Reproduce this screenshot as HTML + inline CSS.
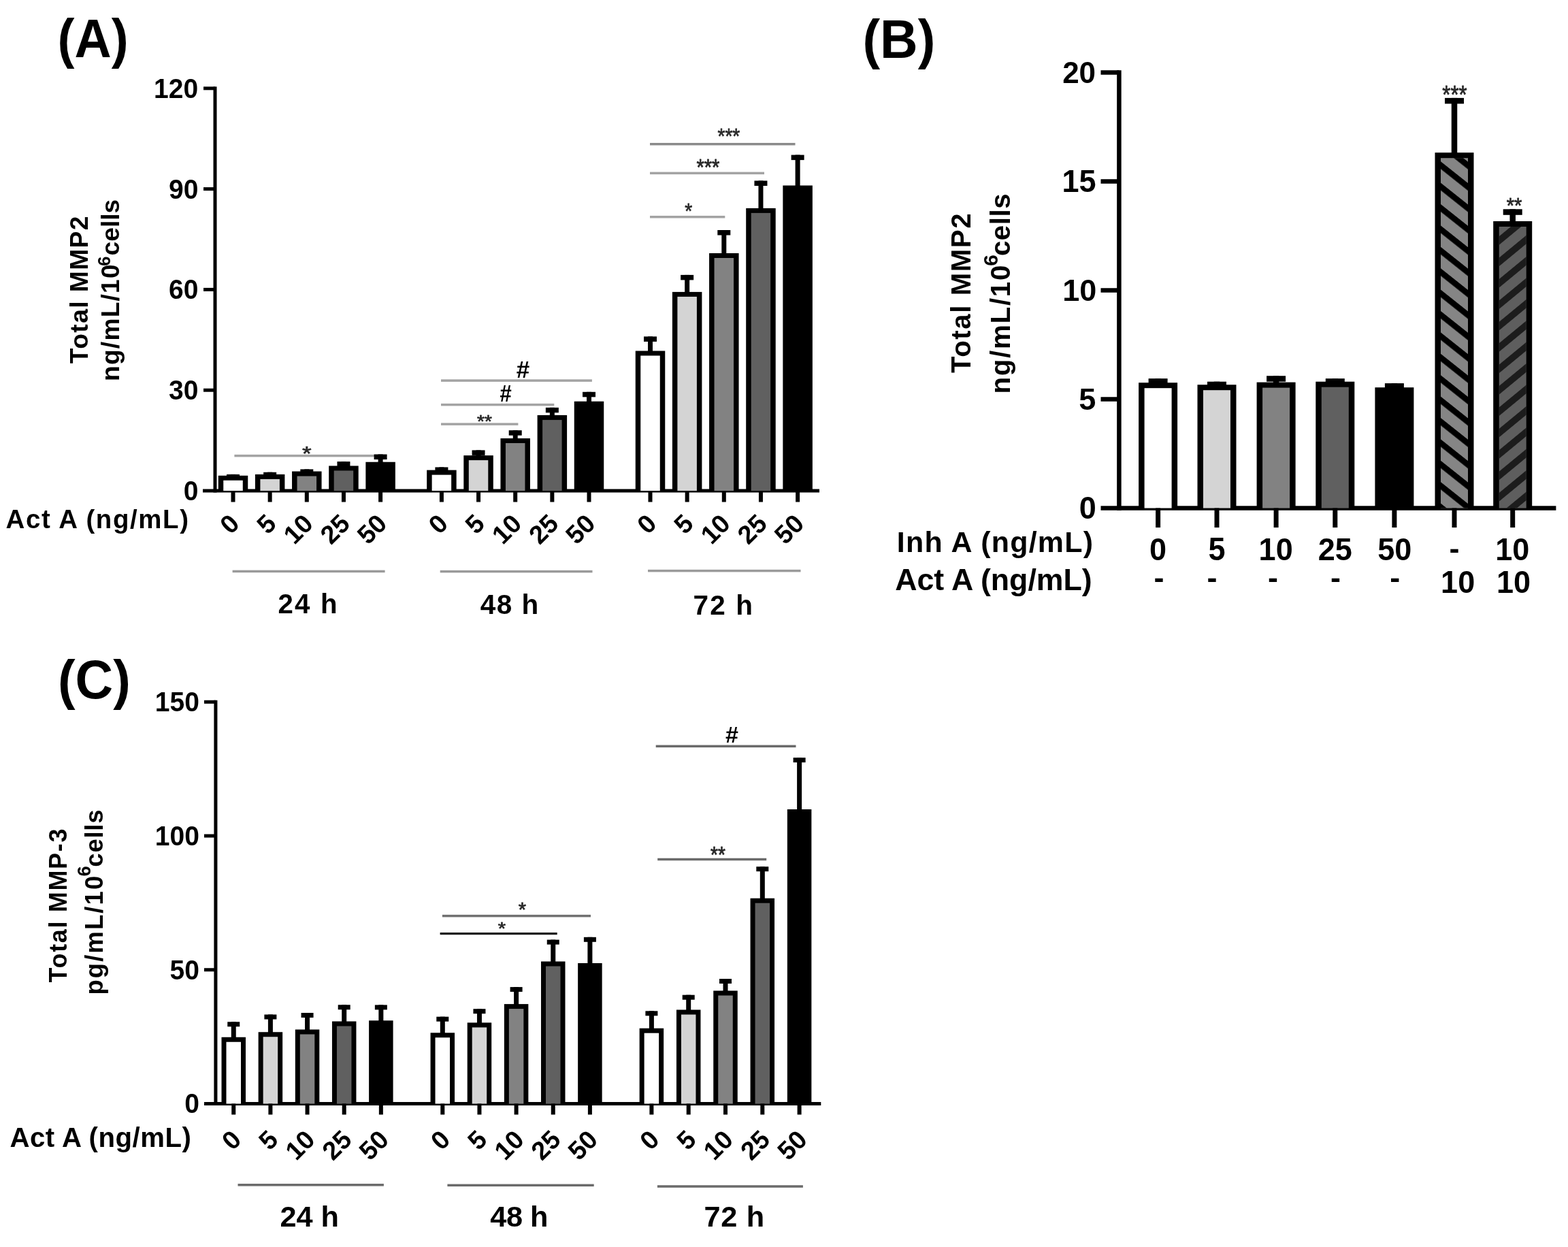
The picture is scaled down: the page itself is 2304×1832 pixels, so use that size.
<!DOCTYPE html>
<html><head><meta charset="utf-8"><title>Figure</title>
<style>html,body{margin:0;padding:0;background:#fff;}svg{display:block;}</style>
</head><body>
<svg width="2304" height="1832" viewBox="0 0 2304 1832" style="font-family:'Liberation Sans',Arial,sans-serif;font-weight:bold">
<defs><pattern id="hatchA" patternUnits="userSpaceOnUse" width="24.57" height="24.57" patternTransform="translate(0 28.87) rotate(38.5)"><rect x="0" y="0" width="24.57" height="8.6" fill="#000"/></pattern><pattern id="hatchB" patternUnits="userSpaceOnUse" width="24.23" height="24.23" patternTransform="translate(0 27.75) rotate(-39.5)"><rect x="0" y="0" width="24.23" height="9.69" fill="#1c1c1c"/></pattern></defs>
<rect x="0" y="0" width="2304" height="1832" fill="#fff"/>
<rect x="344.4" y="667.85" width="213.4" height="3.5" fill="#a3a3a3"/>
<rect x="313.5" y="127.3" width="5" height="596.2" fill="#000"/>
<rect x="299" y="127.3" width="17" height="5" fill="#000"/>
<rect x="299" y="275.1" width="17" height="5" fill="#000"/>
<rect x="299" y="422.9" width="17" height="5" fill="#000"/>
<rect x="299" y="570.7" width="17" height="5" fill="#000"/>
<rect x="298" y="718.5" width="906" height="5" fill="#000"/>
<text transform="translate(226.04 143.82) scale(0.39 0.41)" font-size="100" fill="#000">120</text>
<text transform="translate(247.95 291.62) scale(0.39 0.41)" font-size="100" fill="#000">90</text>
<text transform="translate(247.95 439.42) scale(0.39 0.41)" font-size="100" fill="#000">60</text>
<text transform="translate(247.95 587.17) scale(0.39 0.41)" font-size="100" fill="#000">30</text>
<text transform="translate(269.76 735.02) scale(0.39 0.41)" font-size="100" fill="#000">0</text>
<rect x="339" y="696.9" width="7" height="8.85" fill="#000"/>
<rect x="333" y="696.9" width="19" height="7.5" fill="#000"/>
<rect x="320.75" y="698.75" width="43.5" height="22.25" fill="#000"/>
<rect x="328.25" y="705.75" width="28.5" height="15.25" fill="#ffffff"/>
<rect x="339.5" y="721" width="6" height="16.5" fill="#000"/>
<rect x="393.15" y="693.75" width="7" height="10.15" fill="#000"/>
<rect x="387.15" y="693.75" width="19" height="7.5" fill="#000"/>
<rect x="374.9" y="696.9" width="43.5" height="24.1" fill="#000"/>
<rect x="382.4" y="703.9" width="28.5" height="17.1" fill="#d4d4d4"/>
<rect x="393.65" y="721" width="6" height="16.5" fill="#000"/>
<rect x="447.3" y="689.4" width="7" height="10.1" fill="#000"/>
<rect x="441.3" y="689.4" width="19" height="7.5" fill="#000"/>
<rect x="429.05" y="692.5" width="43.5" height="28.5" fill="#000"/>
<rect x="436.55" y="699.5" width="28.5" height="21.5" fill="#828282"/>
<rect x="447.8" y="721" width="6" height="16.5" fill="#000"/>
<rect x="501.45" y="678.1" width="7" height="13.3" fill="#000"/>
<rect x="495.45" y="678.1" width="19" height="7.5" fill="#000"/>
<rect x="483.2" y="684.4" width="43.5" height="36.6" fill="#000"/>
<rect x="490.7" y="691.4" width="28.5" height="29.6" fill="#606060"/>
<rect x="501.95" y="721" width="6" height="16.5" fill="#000"/>
<rect x="555.6" y="667.5" width="7" height="18.25" fill="#000"/>
<rect x="549.6" y="667.5" width="19" height="7.5" fill="#000"/>
<rect x="537.35" y="678.75" width="43.5" height="42.25" fill="#000"/>
<rect x="556.1" y="721" width="6" height="16.5" fill="#000"/>
<rect x="645.4" y="686.4" width="7" height="11.2" fill="#000"/>
<rect x="639.4" y="686.4" width="19" height="7.5" fill="#000"/>
<rect x="627.15" y="690.6" width="43.5" height="30.4" fill="#000"/>
<rect x="634.65" y="697.6" width="28.5" height="23.4" fill="#ffffff"/>
<rect x="645.9" y="721" width="6" height="16.5" fill="#000"/>
<rect x="699.55" y="661.4" width="7" height="14.7" fill="#000"/>
<rect x="693.55" y="661.4" width="19" height="7.5" fill="#000"/>
<rect x="681.3" y="669.1" width="43.5" height="51.9" fill="#000"/>
<rect x="688.8" y="676.1" width="28.5" height="44.9" fill="#d4d4d4"/>
<rect x="700.05" y="721" width="6" height="16.5" fill="#000"/>
<rect x="753.7" y="632.2" width="7" height="18.8" fill="#000"/>
<rect x="747.7" y="632.2" width="19" height="7.5" fill="#000"/>
<rect x="735.45" y="644" width="43.5" height="77" fill="#000"/>
<rect x="742.95" y="651" width="28.5" height="70" fill="#828282"/>
<rect x="754.2" y="721" width="6" height="16.5" fill="#000"/>
<rect x="807.85" y="598.8" width="7" height="18.1" fill="#000"/>
<rect x="801.85" y="598.8" width="19" height="7.5" fill="#000"/>
<rect x="789.6" y="609.9" width="43.5" height="111.1" fill="#000"/>
<rect x="797.1" y="616.9" width="28.5" height="104.1" fill="#606060"/>
<rect x="808.35" y="721" width="6" height="16.5" fill="#000"/>
<rect x="862" y="575.8" width="7" height="20.9" fill="#000"/>
<rect x="856" y="575.8" width="19" height="7.5" fill="#000"/>
<rect x="843.75" y="589.7" width="43.5" height="131.3" fill="#000"/>
<rect x="862.5" y="721" width="6" height="16.5" fill="#000"/>
<rect x="952" y="494.4" width="7" height="28.1" fill="#000"/>
<rect x="946" y="494.4" width="19" height="7.5" fill="#000"/>
<rect x="933.75" y="515.5" width="43.5" height="205.5" fill="#000"/>
<rect x="941.25" y="522.5" width="28.5" height="198.5" fill="#ffffff"/>
<rect x="952.5" y="721" width="6" height="16.5" fill="#000"/>
<rect x="1006.15" y="403.9" width="7" height="32" fill="#000"/>
<rect x="1000.15" y="403.9" width="19" height="7.5" fill="#000"/>
<rect x="987.9" y="428.9" width="43.5" height="292.1" fill="#000"/>
<rect x="995.4" y="435.9" width="28.5" height="285.1" fill="#d4d4d4"/>
<rect x="1006.65" y="721" width="6" height="16.5" fill="#000"/>
<rect x="1060.3" y="338" width="7" height="41" fill="#000"/>
<rect x="1054.3" y="338" width="19" height="7.5" fill="#000"/>
<rect x="1042.05" y="372" width="43.5" height="349" fill="#000"/>
<rect x="1049.55" y="379" width="28.5" height="342" fill="#828282"/>
<rect x="1060.8" y="721" width="6" height="16.5" fill="#000"/>
<rect x="1114.45" y="265.5" width="7" height="47.4" fill="#000"/>
<rect x="1108.45" y="265.5" width="19" height="7.5" fill="#000"/>
<rect x="1096.2" y="305.9" width="43.5" height="415.1" fill="#000"/>
<rect x="1103.7" y="312.9" width="28.5" height="408.1" fill="#606060"/>
<rect x="1114.95" y="721" width="6" height="16.5" fill="#000"/>
<rect x="1168.6" y="227.6" width="7" height="51.9" fill="#000"/>
<rect x="1162.6" y="227.6" width="19" height="7.5" fill="#000"/>
<rect x="1150.35" y="272.5" width="43.5" height="448.5" fill="#000"/>
<rect x="1169.1" y="721" width="6" height="16.5" fill="#000"/>
<text transform="translate(443.88 675.64) scale(0.35 0.29)" font-size="100" fill="#2a2a2a" font-weight="normal" stroke="#2a2a2a" stroke-width="2.51" stroke-linejoin="round">*</text>
<rect x="648" y="621.35" width="113.4" height="3.5" fill="#a3a3a3"/>
<text transform="translate(701.11 628.48) scale(0.28 0.26)" font-size="100" fill="#2a2a2a" font-weight="normal" stroke="#2a2a2a" stroke-width="2.97" stroke-linejoin="round">**</text>
<rect x="648" y="592.85" width="166.3" height="3.5" fill="#a3a3a3"/>
<text transform="translate(734.46 590.4) scale(0.31 0.35)" font-size="100" fill="#000">#</text>
<rect x="648" y="557.35" width="221.9" height="3.5" fill="#a3a3a3"/>
<text transform="translate(758.69 555) scale(0.35 0.35)" font-size="100" fill="#000">#</text>
<rect x="955" y="316.95" width="110.3" height="3.5" fill="#a3a3a3"/>
<text transform="translate(1006.21 320.61) scale(0.28 0.31)" font-size="100" fill="#2a2a2a" font-weight="normal" stroke="#2a2a2a" stroke-width="2.68" stroke-linejoin="round">*</text>
<rect x="955" y="252.65" width="168" height="3.5" fill="#a3a3a3"/>
<text transform="translate(1023.49 256.57) scale(0.29 0.34)" font-size="100" fill="#2a2a2a" font-weight="normal" stroke="#2a2a2a" stroke-width="2.53" stroke-linejoin="round">***</text>
<rect x="955" y="209.95" width="213.5" height="3.5" fill="#8a8a8a"/>
<text transform="translate(1054.51 211.21) scale(0.28 0.31)" font-size="100" fill="#2a2a2a" font-weight="normal" stroke="#2a2a2a" stroke-width="2.72" stroke-linejoin="round">***</text>
<rect x="341.6" y="837.65" width="224" height="3.5" fill="#9a9a9a"/>
<rect x="646.7" y="837.85" width="223.8" height="3.5" fill="#9a9a9a"/>
<rect x="952" y="836.85" width="224.5" height="3.5" fill="#9a9a9a"/>
<text x="408.49" y="900.7" font-size="40.22" textLength="87.06" lengthAdjust="spacing" fill="#000">24 h</text>
<text x="705.79" y="901.5" font-size="40.5" textLength="85.48" lengthAdjust="spacing" fill="#000">48 h</text>
<text x="1018.58" y="902.5" font-size="40.5" textLength="87.39" lengthAdjust="spacing" fill="#000">72 h</text>
<text transform="translate(354 771.5) rotate(-45)" font-size="38" text-anchor="end">0</text>
<text transform="translate(408.15 771.5) rotate(-45)" font-size="38" text-anchor="end">5</text>
<text transform="translate(462.3 771.5) rotate(-45)" font-size="38" text-anchor="end">10</text>
<text transform="translate(516.45 771.5) rotate(-45)" font-size="38" text-anchor="end">25</text>
<text transform="translate(570.6 771.5) rotate(-45)" font-size="38" text-anchor="end">50</text>
<text transform="translate(660.4 771.5) rotate(-45)" font-size="38" text-anchor="end">0</text>
<text transform="translate(714.55 771.5) rotate(-45)" font-size="38" text-anchor="end">5</text>
<text transform="translate(768.7 771.5) rotate(-45)" font-size="38" text-anchor="end">10</text>
<text transform="translate(822.85 771.5) rotate(-45)" font-size="38" text-anchor="end">25</text>
<text transform="translate(877 771.5) rotate(-45)" font-size="38" text-anchor="end">50</text>
<text transform="translate(967 771.5) rotate(-45)" font-size="38" text-anchor="end">0</text>
<text transform="translate(1021.15 771.5) rotate(-45)" font-size="38" text-anchor="end">5</text>
<text transform="translate(1075.3 771.5) rotate(-45)" font-size="38" text-anchor="end">10</text>
<text transform="translate(1129.45 771.5) rotate(-45)" font-size="38" text-anchor="end">25</text>
<text transform="translate(1183.6 771.5) rotate(-45)" font-size="38" text-anchor="end">50</text>
<text transform="translate(84.54 84) scale(0.75 0.8)" font-size="100" fill="#000">(A)</text>
<text x="8.54" y="776.25" font-size="38.41" textLength="268.41" lengthAdjust="spacing" fill="#000">Act A (ng/mL)</text>
<text transform="translate(128.8 534.17) rotate(-90)" font-size="37.29" textLength="216.73" lengthAdjust="spacing" fill="#000">Total MMP2</text>
<text transform="translate(175.4 559.91) rotate(-90)" font-size="37.15" textLength="171.49" lengthAdjust="spacing" fill="#000">ng/mL/10</text>
<text transform="translate(161.8 390.97) rotate(-90)" font-size="25.98" textLength="16.31" lengthAdjust="spacing" fill="#000">6</text>
<text transform="translate(175.4 375.39) rotate(-90)" font-size="37.15" textLength="82.54" lengthAdjust="spacing" fill="#000">cells</text>
<rect x="1641.15" y="103.25" width="6.5" height="646.5" fill="#000"/>
<rect x="1617.5" y="103.25" width="26.9" height="6.5" fill="#000"/>
<rect x="1617.5" y="263.25" width="26.9" height="6.5" fill="#000"/>
<rect x="1617.5" y="423.25" width="26.9" height="6.5" fill="#000"/>
<rect x="1617.5" y="583.25" width="26.9" height="6.5" fill="#000"/>
<rect x="1617.5" y="743.25" width="668.9" height="6.5" fill="#000"/>
<text transform="translate(1561.14 122.14) scale(0.44 0.45)" font-size="100" fill="#000">20</text>
<text transform="translate(1560.58 281.91) scale(0.45 0.46)" font-size="100" fill="#000">15</text>
<text transform="translate(1561.13 442.14) scale(0.45 0.45)" font-size="100" fill="#000">10</text>
<text transform="translate(1585.28 601.91) scale(0.45 0.45)" font-size="100" fill="#000">5</text>
<text transform="translate(1585.83 762.14) scale(0.45 0.46)" font-size="100" fill="#000">0</text>
<rect x="1697.35" y="556.1" width="8.5" height="14.1" fill="#000"/>
<rect x="1687.6" y="556.1" width="28" height="8.5" fill="#000"/>
<rect x="1673.1" y="562.2" width="57" height="184.3" fill="#000"/>
<rect x="1681.6" y="570.2" width="40" height="176.3" fill="#ffffff"/>
<rect x="1698.1" y="746.5" width="7" height="28.5" fill="#000"/>
<rect x="1783.75" y="560.7" width="8.5" height="12.5" fill="#000"/>
<rect x="1774" y="560.7" width="28" height="8.5" fill="#000"/>
<rect x="1759.5" y="565.2" width="57" height="181.3" fill="#000"/>
<rect x="1768" y="573.2" width="40" height="173.3" fill="#d4d4d4"/>
<rect x="1784.5" y="746.5" width="7" height="28.5" fill="#000"/>
<rect x="1870.85" y="552.2" width="8.5" height="17.4" fill="#000"/>
<rect x="1861.1" y="552.2" width="28" height="8.5" fill="#000"/>
<rect x="1846.6" y="561.6" width="57" height="184.9" fill="#000"/>
<rect x="1855.1" y="569.6" width="40" height="176.9" fill="#828282"/>
<rect x="1871.6" y="746.5" width="7" height="28.5" fill="#000"/>
<rect x="1957.55" y="556.1" width="8.5" height="12.6" fill="#000"/>
<rect x="1947.8" y="556.1" width="28" height="8.5" fill="#000"/>
<rect x="1933.3" y="560.7" width="57" height="185.8" fill="#000"/>
<rect x="1941.8" y="568.7" width="40" height="177.8" fill="#606060"/>
<rect x="1958.3" y="746.5" width="7" height="28.5" fill="#000"/>
<rect x="2044.65" y="563.1" width="8.5" height="14.1" fill="#000"/>
<rect x="2034.9" y="563.1" width="28" height="8.5" fill="#000"/>
<rect x="2020.4" y="569.2" width="57" height="177.3" fill="#000"/>
<rect x="2045.4" y="746.5" width="7" height="28.5" fill="#000"/>
<rect x="2132.75" y="143.9" width="8.5" height="88.3" fill="#000"/>
<rect x="2123" y="143.9" width="28" height="8.5" fill="#000"/>
<rect x="2108.5" y="224.2" width="57" height="522.3" fill="#000"/>
<rect x="2117" y="232.2" width="40" height="514.3" fill="#858585"/>
<rect x="2117" y="232.2" width="40" height="514.3" fill="url(#hatchA)"/>
<rect x="2133.5" y="746.5" width="7" height="28.5" fill="#000"/>
<rect x="2218.45" y="307.3" width="8.5" height="25.7" fill="#000"/>
<rect x="2208.7" y="307.3" width="28" height="8.5" fill="#000"/>
<rect x="2194.2" y="325" width="57" height="421.5" fill="#000"/>
<rect x="2202.7" y="333" width="40" height="413.5" fill="#5e5e5e"/>
<rect x="2202.7" y="333" width="40" height="413.5" fill="url(#hatchB)"/>
<rect x="2219.2" y="746.5" width="7" height="28.5" fill="#000"/>
<text transform="translate(2119.35 151.83) scale(0.31 0.37)" font-size="100" fill="#2a2a2a" font-weight="normal" stroke="#2a2a2a" stroke-width="2.33" stroke-linejoin="round">***</text>
<text transform="translate(2213.69 312.5) scale(0.29 0.32)" font-size="100" fill="#2a2a2a" font-weight="normal" stroke="#2a2a2a" stroke-width="2.63" stroke-linejoin="round">**</text>
<text transform="translate(1267.42 84.56) scale(0.77 0.8)" font-size="100" fill="#000">(B)</text>
<text transform="translate(1426.25 547.9) rotate(-90)" font-size="40.15" textLength="234.47" lengthAdjust="spacing" fill="#000">Total MMP2</text>
<text transform="translate(1484.1 578.62) rotate(-90)" font-size="40.36" textLength="189.03" lengthAdjust="spacing" fill="#000">ng/mL/10</text>
<text transform="translate(1465.5 390.63) rotate(-90)" font-size="30.03" textLength="15.31" lengthAdjust="spacing" fill="#000">6</text>
<text transform="translate(1484.1 376.11) rotate(-90)" font-size="40.36" textLength="91.9" lengthAdjust="spacing" fill="#000">cells</text>
<text x="1317.85" y="811.25" font-size="42.95" textLength="288.1" lengthAdjust="spacing" fill="#000">Inh A (ng/mL)</text>
<text x="1315.13" y="867" font-size="44.69" textLength="289.63" lengthAdjust="spacing" fill="#000">Act A (ng/mL)</text>
<text transform="translate(1689.11 822.53) scale(0.45 0.47)" font-size="100" fill="#000">0</text>
<text transform="translate(1695.52 864.2) scale(0.45 0.45)" font-size="100" fill="#000">-</text>
<text transform="translate(1775.46 822.52) scale(0.45 0.48)" font-size="100" fill="#000">5</text>
<text transform="translate(1773.52 864.2) scale(0.45 0.45)" font-size="100" fill="#000">-</text>
<text transform="translate(1849.62 822.53) scale(0.45 0.47)" font-size="100" fill="#000">10</text>
<text transform="translate(1863.02 864.2) scale(0.45 0.45)" font-size="100" fill="#000">-</text>
<text transform="translate(1936.66 822.53) scale(0.45 0.47)" font-size="100" fill="#000">25</text>
<text transform="translate(1954.92 864.2) scale(0.45 0.45)" font-size="100" fill="#000">-</text>
<text transform="translate(2024.15 822.53) scale(0.45 0.47)" font-size="100" fill="#000">50</text>
<text transform="translate(2042.32 864.2) scale(0.45 0.45)" font-size="100" fill="#000">-</text>
<text transform="translate(2129.52 821.1) scale(0.45 0.45)" font-size="100" fill="#000">-</text>
<text transform="translate(2117.12 871.04) scale(0.45 0.46)" font-size="100" fill="#000">10</text>
<text transform="translate(2197.22 822.53) scale(0.45 0.47)" font-size="100" fill="#000">10</text>
<text transform="translate(2199.02 871.04) scale(0.45 0.46)" font-size="100" fill="#000">10</text>
<rect x="314.4" y="1028.75" width="5" height="595.25" fill="#000"/>
<rect x="300" y="1028.75" width="16.9" height="5" fill="#000"/>
<rect x="300" y="1225.5" width="16.9" height="5" fill="#000"/>
<rect x="300" y="1422.25" width="16.9" height="5" fill="#000"/>
<rect x="300" y="1619" width="906.3" height="5" fill="#000"/>
<text transform="translate(227.78 1045.17) scale(0.39 0.4)" font-size="100" fill="#000">150</text>
<text transform="translate(227.78 1241.92) scale(0.39 0.4)" font-size="100" fill="#000">100</text>
<text transform="translate(249.52 1438.67) scale(0.39 0.4)" font-size="100" fill="#000">50</text>
<text transform="translate(271.17 1635.42) scale(0.39 0.4)" font-size="100" fill="#000">0</text>
<rect x="339.75" y="1501.25" width="7" height="29.5" fill="#000"/>
<rect x="334.25" y="1501.25" width="18" height="7" fill="#000"/>
<rect x="325.5" y="1523.75" width="35.5" height="97.75" fill="#000"/>
<rect x="332.5" y="1530.75" width="21.5" height="90.75" fill="#ffffff"/>
<rect x="340.25" y="1621.5" width="6" height="16" fill="#000"/>
<rect x="393.9" y="1490.5" width="7" height="32.75" fill="#000"/>
<rect x="388.4" y="1490.5" width="18" height="7" fill="#000"/>
<rect x="379.65" y="1516.25" width="35.5" height="105.25" fill="#000"/>
<rect x="386.65" y="1523.25" width="21.5" height="98.25" fill="#d4d4d4"/>
<rect x="394.4" y="1621.5" width="6" height="16" fill="#000"/>
<rect x="448.05" y="1488" width="7" height="31.5" fill="#000"/>
<rect x="442.55" y="1488" width="18" height="7" fill="#000"/>
<rect x="433.8" y="1512.5" width="35.5" height="109" fill="#000"/>
<rect x="440.8" y="1519.5" width="21.5" height="102" fill="#828282"/>
<rect x="448.55" y="1621.5" width="6" height="16" fill="#000"/>
<rect x="502.2" y="1476.25" width="7" height="31.25" fill="#000"/>
<rect x="496.7" y="1476.25" width="18" height="7" fill="#000"/>
<rect x="487.95" y="1500.5" width="35.5" height="121" fill="#000"/>
<rect x="494.95" y="1507.5" width="21.5" height="114" fill="#606060"/>
<rect x="502.7" y="1621.5" width="6" height="16" fill="#000"/>
<rect x="556.35" y="1476.4" width="7" height="29.9" fill="#000"/>
<rect x="550.85" y="1476.4" width="18" height="7" fill="#000"/>
<rect x="542.1" y="1499.3" width="35.5" height="122.2" fill="#000"/>
<rect x="556.85" y="1621.5" width="6" height="16" fill="#000"/>
<rect x="646.8" y="1493.7" width="7" height="30.6" fill="#000"/>
<rect x="641.3" y="1493.7" width="18" height="7" fill="#000"/>
<rect x="632.55" y="1517.3" width="35.5" height="104.2" fill="#000"/>
<rect x="639.55" y="1524.3" width="21.5" height="97.2" fill="#ffffff"/>
<rect x="647.3" y="1621.5" width="6" height="16" fill="#000"/>
<rect x="700.95" y="1482.2" width="7" height="27.2" fill="#000"/>
<rect x="695.45" y="1482.2" width="18" height="7" fill="#000"/>
<rect x="686.7" y="1502.4" width="35.5" height="119.1" fill="#000"/>
<rect x="693.7" y="1509.4" width="21.5" height="112.1" fill="#d4d4d4"/>
<rect x="701.45" y="1621.5" width="6" height="16" fill="#000"/>
<rect x="755.1" y="1450.1" width="7" height="32" fill="#000"/>
<rect x="749.6" y="1450.1" width="18" height="7" fill="#000"/>
<rect x="740.85" y="1475.1" width="35.5" height="146.4" fill="#000"/>
<rect x="747.85" y="1482.1" width="21.5" height="139.4" fill="#828282"/>
<rect x="755.6" y="1621.5" width="6" height="16" fill="#000"/>
<rect x="809.25" y="1380.6" width="7" height="38.9" fill="#000"/>
<rect x="803.75" y="1380.6" width="18" height="7" fill="#000"/>
<rect x="795" y="1412.5" width="35.5" height="209" fill="#000"/>
<rect x="802" y="1419.5" width="21.5" height="202" fill="#606060"/>
<rect x="809.75" y="1621.5" width="6" height="16" fill="#000"/>
<rect x="863.4" y="1376.8" width="7" height="45.2" fill="#000"/>
<rect x="857.9" y="1376.8" width="18" height="7" fill="#000"/>
<rect x="849.15" y="1415" width="35.5" height="206.5" fill="#000"/>
<rect x="863.9" y="1621.5" width="6" height="16" fill="#000"/>
<rect x="953.9" y="1485.3" width="7" height="32.4" fill="#000"/>
<rect x="948.4" y="1485.3" width="18" height="7" fill="#000"/>
<rect x="939.65" y="1510.7" width="35.5" height="110.8" fill="#000"/>
<rect x="946.65" y="1517.7" width="21.5" height="103.8" fill="#ffffff"/>
<rect x="954.4" y="1621.5" width="6" height="16" fill="#000"/>
<rect x="1008.2" y="1461.7" width="7" height="28.8" fill="#000"/>
<rect x="1002.7" y="1461.7" width="18" height="7" fill="#000"/>
<rect x="993.95" y="1483.5" width="35.5" height="138" fill="#000"/>
<rect x="1000.95" y="1490.5" width="21.5" height="131" fill="#d4d4d4"/>
<rect x="1008.7" y="1621.5" width="6" height="16" fill="#000"/>
<rect x="1062.5" y="1438" width="7" height="24.5" fill="#000"/>
<rect x="1057" y="1438" width="18" height="7" fill="#000"/>
<rect x="1048.25" y="1455.5" width="35.5" height="166" fill="#000"/>
<rect x="1055.25" y="1462.5" width="21.5" height="159" fill="#828282"/>
<rect x="1063" y="1621.5" width="6" height="16" fill="#000"/>
<rect x="1116.8" y="1273.2" width="7" height="53.5" fill="#000"/>
<rect x="1111.3" y="1273.2" width="18" height="7" fill="#000"/>
<rect x="1102.55" y="1319.7" width="35.5" height="301.8" fill="#000"/>
<rect x="1109.55" y="1326.7" width="21.5" height="294.8" fill="#606060"/>
<rect x="1117.3" y="1621.5" width="6" height="16" fill="#000"/>
<rect x="1171.1" y="1113.1" width="7" height="82.9" fill="#000"/>
<rect x="1165.6" y="1113.1" width="18" height="7" fill="#000"/>
<rect x="1156.85" y="1189" width="35.5" height="432.5" fill="#000"/>
<rect x="1171.6" y="1621.5" width="6" height="16" fill="#000"/>
<rect x="646.6" y="1370" width="172.1" height="3.2" fill="#111"/>
<text transform="translate(731.79 1373.18) scale(0.29 0.26)" font-size="100" fill="#2a2a2a" font-weight="normal" stroke="#2a2a2a" stroke-width="2.89" stroke-linejoin="round">*</text>
<rect x="649.9" y="1343.85" width="218.1" height="3.5" fill="#707070"/>
<text transform="translate(761.69 1345.73) scale(0.29 0.29)" font-size="100" fill="#2a2a2a" font-weight="normal" stroke="#2a2a2a" stroke-width="2.72" stroke-linejoin="round">*</text>
<rect x="966.2" y="1260.75" width="160" height="3.5" fill="#6a6a6a"/>
<text transform="translate(1044.1 1266.99) scale(0.28 0.33)" font-size="100" fill="#2a2a2a" font-weight="normal" stroke="#2a2a2a" stroke-width="2.62" stroke-linejoin="round">**</text>
<rect x="963.7" y="1094.55" width="205.8" height="3.5" fill="#6a6a6a"/>
<text transform="translate(1066 1091) scale(0.34 0.34)" font-size="100" fill="#000">#</text>
<rect x="349.5" y="1739.05" width="214.4" height="3.5" fill="#6a6a6a"/>
<rect x="657.4" y="1739.55" width="215.3" height="3.5" fill="#6a6a6a"/>
<rect x="965.9" y="1741.25" width="214" height="3.5" fill="#6a6a6a"/>
<text x="411.58" y="1802.2" font-size="43.3" textLength="86.26" lengthAdjust="spacing" fill="#000">24 h</text>
<text x="720.25" y="1802.2" font-size="43.3" textLength="85.29" lengthAdjust="spacing" fill="#000">48 h</text>
<text x="1034.46" y="1802.2" font-size="43.3" textLength="88.78" lengthAdjust="spacing" fill="#000">72 h</text>
<text transform="translate(356.75 1676.5) rotate(-45)" font-size="38" text-anchor="end">0</text>
<text transform="translate(410.9 1676.5) rotate(-45)" font-size="38" text-anchor="end">5</text>
<text transform="translate(465.05 1676.5) rotate(-45)" font-size="38" text-anchor="end">10</text>
<text transform="translate(519.2 1676.5) rotate(-45)" font-size="38" text-anchor="end">25</text>
<text transform="translate(573.35 1676.5) rotate(-45)" font-size="38" text-anchor="end">50</text>
<text transform="translate(663.8 1676.5) rotate(-45)" font-size="38" text-anchor="end">0</text>
<text transform="translate(717.95 1676.5) rotate(-45)" font-size="38" text-anchor="end">5</text>
<text transform="translate(772.1 1676.5) rotate(-45)" font-size="38" text-anchor="end">10</text>
<text transform="translate(826.25 1676.5) rotate(-45)" font-size="38" text-anchor="end">25</text>
<text transform="translate(880.4 1676.5) rotate(-45)" font-size="38" text-anchor="end">50</text>
<text transform="translate(970.9 1676.5) rotate(-45)" font-size="38" text-anchor="end">0</text>
<text transform="translate(1025.2 1676.5) rotate(-45)" font-size="38" text-anchor="end">5</text>
<text transform="translate(1079.5 1676.5) rotate(-45)" font-size="38" text-anchor="end">10</text>
<text transform="translate(1133.8 1676.5) rotate(-45)" font-size="38" text-anchor="end">25</text>
<text transform="translate(1188.1 1676.5) rotate(-45)" font-size="38" text-anchor="end">50</text>
<text transform="translate(84.92 1026.09) scale(0.77 0.79)" font-size="100" fill="#000">(C)</text>
<text x="14.5" y="1685" font-size="40.15" textLength="266.29" lengthAdjust="spacing" fill="#000">Act A (ng/mL)</text>
<text transform="translate(97.6 1443.46) rotate(-90)" font-size="36.03" textLength="225.9" lengthAdjust="spacing" fill="#000">Total MMP-3</text>
<text transform="translate(150.5 1461.58) rotate(-90)" font-size="36.59" textLength="174.83" lengthAdjust="spacing" fill="#000">pg/mL/10</text>
<text transform="translate(132.8 1287.62) rotate(-90)" font-size="27.23" textLength="13.81" lengthAdjust="spacing" fill="#000">6</text>
<text transform="translate(150.5 1273.66) rotate(-90)" font-size="36.59" textLength="84.19" lengthAdjust="spacing" fill="#000">cells</text>
</svg>
</body></html>
